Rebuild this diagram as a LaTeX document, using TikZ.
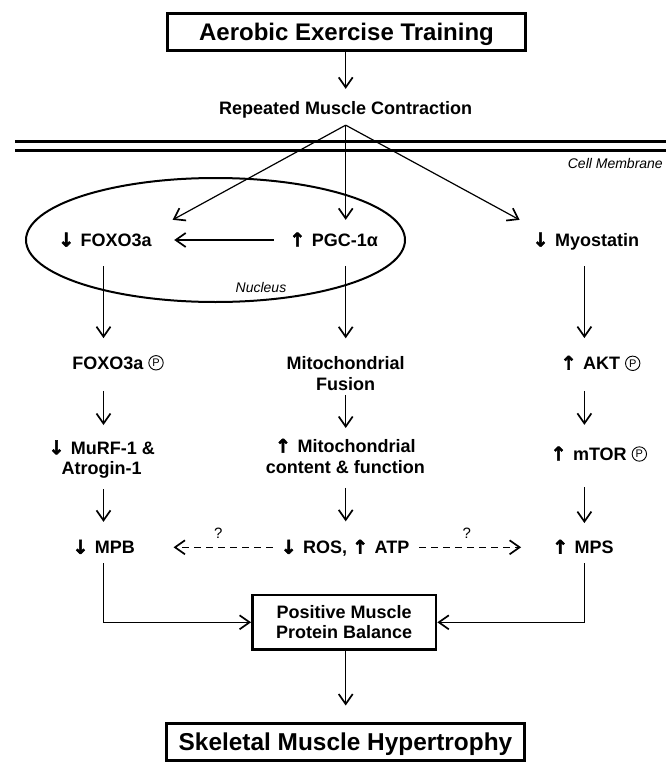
\documentclass[tikz,border=0pt]{standalone}
\usepackage{fontspec}
\setmainfont{Liberation Sans}
\newfontfamily\arrfont{DejaVu Sans Bold}[FakeBold=2.5]
\usetikzlibrary{arrows.meta,shapes.geometric}
\newcommand\uparr{{\arrfont\fontsize{19}{19}\selectfont ↑}\kern1.5pt}
\newcommand\dnarr{{\arrfont\fontsize{19}{19}\selectfont ↓}\kern1.5pt}
% circled P: the letter is text, the circle is drawn
\newcommand\phos{\tikz[baseline={(0pt,-6.45pt)},x=1pt,y=1pt]{\draw[line width=0.9pt] (0pt,0pt) circle[radius=7.2pt];}\kern-15.3pt\makebox[15.3pt]{\raisebox{2.6pt}{\fontsize{11}{11}\selectfont\mdseries P}}}
\begin{document}
\begin{tikzpicture}[x=1pt,y=-1pt,
 lab/.style={font=\fontsize{18}{21}\selectfont\bfseries, inner sep=0pt, text height=12.9pt, text depth=0pt},
 mlab/.style={font=\fontsize{18}{20.5}\selectfont\bfseries, inner sep=0pt, align=center},
 bigbox/.style={draw, line width=3pt, inner sep=0pt, minimum width=358pt, minimum height=37pt, text height=17.3pt, text depth=0pt},
 conn/.style={line width=1.2pt, -{Straight Barb[length=10pt,width=14pt,line width=1.7pt]}},
 dconn/.style={conn, dash pattern=on 7pt off 5pt},
 qmark/.style={font=\fontsize{15}{15}\selectfont, inner sep=0pt},
 note/.style={font=\fontsize{14}{14}\selectfont\itshape, inner sep=0pt},
 membrane/.style={line width=3pt},
]
\useasboundingbox (0,0) rectangle (665,762);
\coordinate (colL) at (103.5,0);
\coordinate (colC) at (345.7,0);
\coordinate (colR) at (584.4,0);

\node[bigbox, font=\fontsize{24}{28}\selectfont\bfseries] (aet) at (346.5,32) {Aerobic Exercise Training};
\node[lab] (rmc) at (345.7,108.5) {Repeated Muscle Contraction};
\coordinate (apex) at ([yshift=-10pt]rmc.south);

\draw[membrane] (15,141.7) -- (670,141.7);
\draw[membrane] (15,151) -- (670,151);
\node[note, anchor=east] (cm) at (663,163.3) {Cell Membrane};

\node[draw, ellipse, line width=2pt, minimum width=379pt, minimum height=124pt, inner sep=0pt] (nuc) at (215.5,240) {};
\node[note] (nucl) at (261,287.5) {Nucleus};

\node[lab] (foxo) at (105,240) {\dnarr\ FOXO3a};
\node[lab] (pgc) at (333.7,240) {\uparr\ PGC-1α};
\node[lab] (myo) at (585.8,240) {\dnarr\ Myostatin};

\node[lab] (foxop) at (118,362.8) {FOXO3a \phos};
\node[mlab, anchor=north] (mfus) at (345.7,356.3) {Mitochondrial\\Fusion};
\node[lab] (akt) at (600.5,363.3) {\uparr\ AKT \phos};

\node[mlab, anchor=north] (murf) at (101.7,440.2) {\dnarr\ MuRF-1 \&\\Atrogin-1};
\node[mlab, anchor=north] (mcont) at (345.3,438.6) {\uparr\ Mitochondrial\\content \& function};
\node[lab] (mtor) at (598.8,454) {\uparr\ mTOR \phos};

\node[lab] (mpb) at (103.7,547.3) {\dnarr\ MPB};
\node[lab] (ros) at (345,547.3) {\dnarr\ ROS, \uparr\ ATP};
\node[lab] (mps) at (583,547.3) {\uparr\ MPS};
\node[qmark] (q1) at (218.3,533.3) {?};
\node[qmark] (q2) at (466.7,533.3) {?};

\node[draw, line width=2.5pt, mlab, minimum width=183.8pt, minimum height=54.2pt] (pmb) at (344.2,622.3) {Positive Muscle\\Protein Balance};
\node[bigbox, font=\fontsize{24.4}{28}\selectfont\bfseries] (smh) at (345.5,741.5) {Skeletal Muscle Hypertrophy};

% connectors
\draw[conn, shorten >=13pt] (aet.south -| colC) -- (rmc.north -| colC);
\draw[conn, shorten >=28.2pt] (apex) -- ([xshift=-4pt]foxo.north east);
\draw[conn, shorten >=13.5pt] (apex) -- (apex |- pgc.north);
\draw[conn, shorten >=28.2pt] (apex) -- ([xshift=12pt]myo.north west);
\draw[conn, shorten <=15.7pt, shorten >=22.3pt] (pgc.west) -- (foxo.east);

\draw[conn, shorten <=19.5pt, shorten >=18pt] (foxo.south -| colL) -- (foxop.north -| colL);
\draw[conn, shorten <=21.5pt, shorten >=15.2pt] (foxop.south -| colL) -- (murf.north -| colL);
\draw[conn, shorten <=10.4pt, shorten >=18.8pt] (murf.south -| colL) -- (mpb.north -| colL);
\draw[conn, shorten <=9.5pt] (mpb.south -| colL) |- (pmb.west);

\draw[conn, shorten <=19.2pt, shorten >=18pt] (pgc.south -| colC) -- (mfus.north -| colC);
\draw[conn, shorten <=4.5pt, shorten >=10.6pt] (mfus.south -| colC) -- (mcont.north -| colC);
\draw[conn, shorten <=14.2pt, shorten >=19.3pt] (mcont.south -| colC) -- (ros.north -| colC);
\draw[conn, shorten >=16pt] (pmb.south -| colC) -- (smh.north -| colC);

\draw[conn, shorten <=19.5pt, shorten >=18.6pt] (myo.south -| colR) -- (akt.north -| colR);
\draw[conn, shorten <=21pt, shorten >=22.5pt] (akt.south -| colR) -- (mtor.north -| colR);
\draw[conn, shorten <=26.8pt, shorten >=17.6pt] (mtor.south -| colR) -- (mps.north -| colR);
\draw[conn, shorten <=9.5pt] (mps.south -| colR) |- (pmb.east);

\draw[dconn, shorten <=7.7pt, shorten >=38.4pt] (ros.west) -- (mpb.east);
\draw[dconn, shorten <=9.7pt, shorten >=31pt] (ros.east) -- (mps.west);
\end{tikzpicture}
\end{document}
